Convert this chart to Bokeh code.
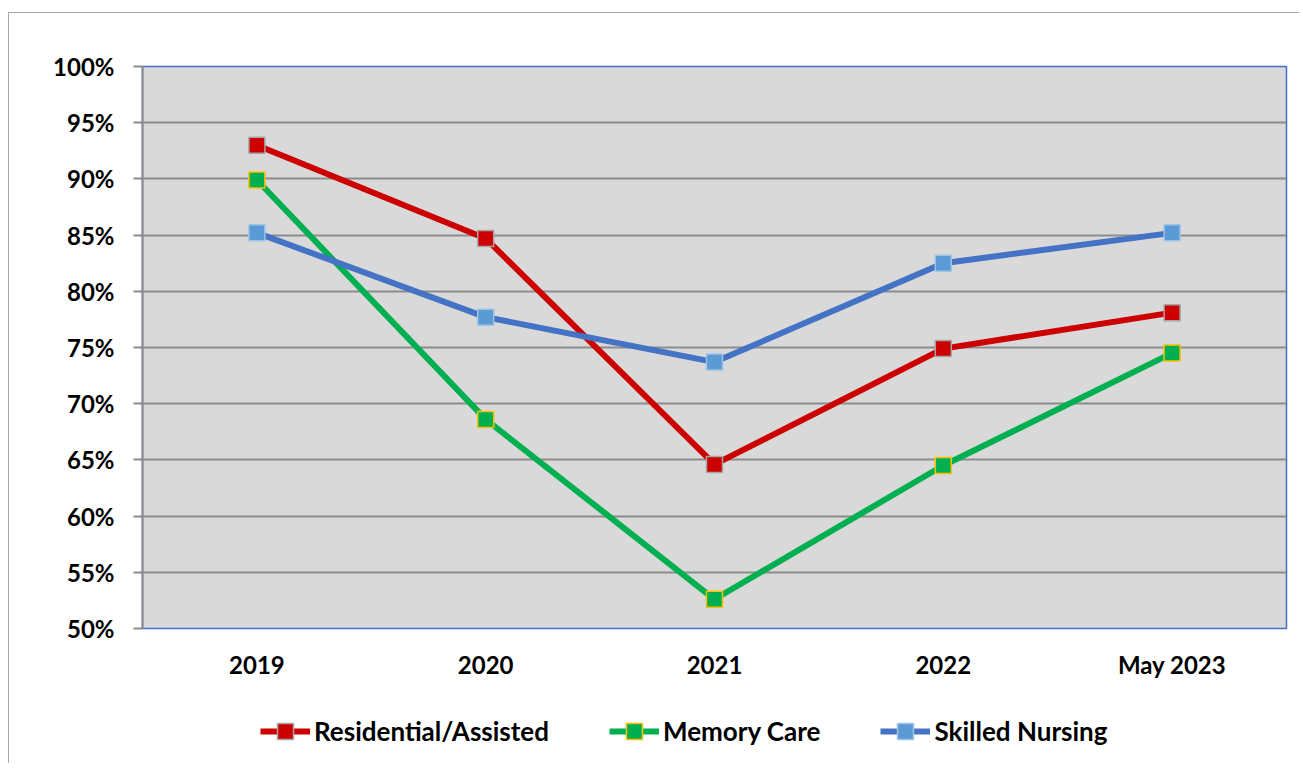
from bokeh.plotting import figure
from bokeh.models import FixedTicker, NumeralTickFormatter, Legend, LegendItem
from bokeh.layouts import column
from bokeh.embed import file_html
from bokeh.resources import INLINE

categories = ["2019", "2020", "2021", "2022", "May 2023"]
residential = [0.930, 0.847, 0.646, 0.749, 0.781]
memory_care = [0.899, 0.686, 0.526, 0.645, 0.745]
skilled_nursing = [0.852, 0.777, 0.737, 0.825, 0.852]
y_ticks = [0.50, 0.55, 0.60, 0.65, 0.70, 0.75, 0.80, 0.85, 0.90, 0.95, 1.00]

FONT = "Lato"

series = [
    ("Residential/Assisted", residential, "#CC0000", "#CC0000", "#A6A6A6"),
    ("Memory Care", memory_care, "#00B050", "#00B050", "#FFC000"),
    ("Skilled Nursing", skilled_nursing, "#4472C4", "#5B9BD5", "#9DC3E6"),
]

p = figure(x_range=categories, y_range=(0.5, 1.0), width=1290, height=690,
           output_backend="svg", toolbar_location=None,
           min_border_left=133, min_border_right=13, min_border_top=53, min_border_bottom=75)

p.background_fill_color = "#D9D9D9"
p.border_fill_color = "white"
p.outline_line_color = "#4472C4"
p.outline_line_width = 1.5

p.xgrid.grid_line_color = None
p.ygrid.ticker = FixedTicker(ticks=y_ticks)
p.ygrid.grid_line_color = "#8C8C8C"
p.ygrid.grid_line_width = 2

p.yaxis.ticker = FixedTicker(ticks=y_ticks)
p.yaxis.formatter = NumeralTickFormatter(format="0%")
p.yaxis.axis_line_color = "#8C8C8C"
p.yaxis.axis_line_width = 2
p.yaxis.major_tick_line_color = "#8C8C8C"
p.yaxis.major_tick_line_width = 2
p.yaxis.major_tick_out = 9
p.yaxis.major_tick_in = 0
p.yaxis.minor_tick_line_color = None
p.yaxis.major_label_standoff = 19
p.yaxis.major_label_text_font = FONT
p.yaxis.major_label_text_font_style = "bold"
p.yaxis.major_label_text_font_size = "24px"
p.yaxis.major_label_text_color = "black"

p.xaxis.axis_line_color = None
p.xaxis.major_tick_line_color = None
p.xaxis.minor_tick_line_color = None
p.xaxis.major_label_standoff = 15
p.xaxis.major_label_text_font = FONT
p.xaxis.major_label_text_font_style = "bold"
p.xaxis.major_label_text_font_size = "24px"
p.xaxis.major_label_text_color = "black"

for name, vals, lc, fc, mc in series:
    p.line(categories, vals, line_color=lc, line_width=6)
    p.scatter(categories, vals, marker="square", size=16, fill_color=fc,
              line_color=mc, line_width=1.5)

# Legend strip: same series drawn in a figure whose y range excludes the data,
# so only the legend shows.
lg = figure(x_range=categories, y_range=(2.0, 3.0), width=1290, height=60,
            output_backend="svg", toolbar_location=None,
            min_border_left=0, min_border_right=0, min_border_top=0, min_border_bottom=0)
lg.axis.visible = False
lg.grid.visible = False
lg.outline_line_color = None
lg.background_fill_color = "white"
lg.border_fill_color = "white"

items = []
for name, vals, lc, fc, mc in series:
    l = lg.line(categories, vals, line_color=lc, line_width=6)
    s = lg.scatter(categories, vals, marker="square", size=16, fill_color=fc,
                   line_color=mc, line_width=1.5)
    items.append(LegendItem(label=name, renderers=[l, s]))

legend = Legend(items=items, orientation="horizontal", location=(118, 12),
                glyph_width=50, glyph_height=40, label_standoff=4, spacing=60,
                padding=0, margin=0, border_line_color=None, background_fill_alpha=0,
                label_text_font=FONT, label_text_font_style="bold",
                label_text_font_size="26px", label_text_color="black")
lg.add_layout(legend, "center")

layout = column(p, lg, spacing=0)
layout.styles = {"margin-top": "12px", "margin-left": "8px",
                 "border-left": "1px solid #A6A6A6", "border-top": "1px solid #A6A6A6"}

open("out.html", "w").write(file_html(layout, INLINE))
